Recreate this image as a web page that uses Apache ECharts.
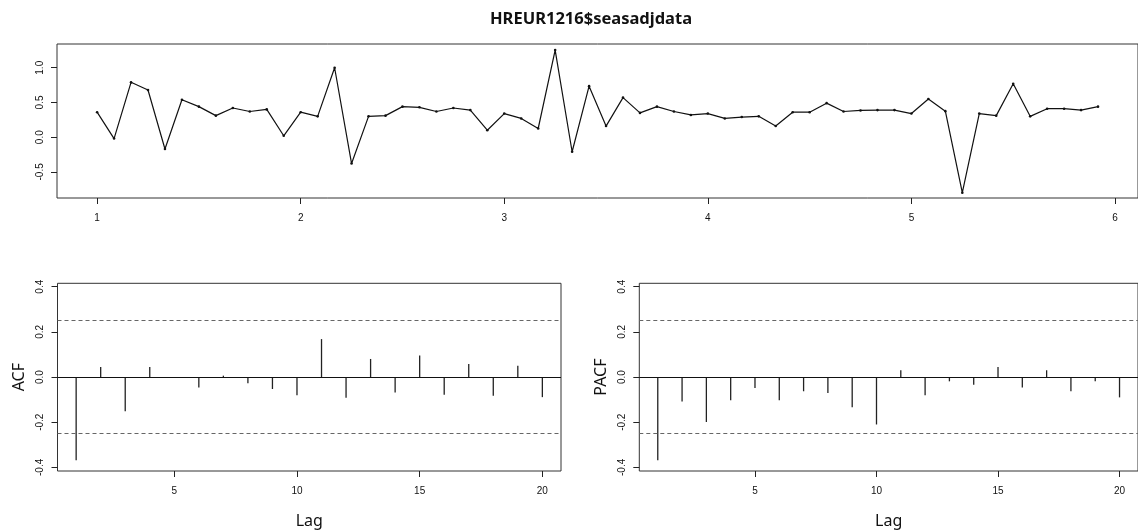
<!DOCTYPE html>
<html>
<head>
<meta charset="utf-8">
<script src="https://cdn.jsdelivr.net/npm/echarts@6/dist/echarts.min.js"></script>
<style>
html,body{margin:0;padding:0;background:#fff;}
#chart{width:1138px;height:532px;}
</style>
</head>
<body>
<div id="chart"></div>
<script>
// ---- data ----
const seriesStart = 1;          // time of first observation
const seriesFreq = 12;          // observations per unit
const seasadjValues = [
  0.36, -0.02, 0.79, 0.68, -0.17, 0.54, 0.44, 0.31, 0.42, 0.37, 0.40, 0.02,
  0.36, 0.30, 1.00, -0.38, 0.30, 0.31, 0.44, 0.43, 0.37, 0.42, 0.39, 0.10,
  0.34, 0.27, 0.125, 1.255, -0.21, 0.735, 0.16, 0.57, 0.35, 0.44, 0.37, 0.32,
  0.34, 0.27, 0.29, 0.30, 0.16, 0.36, 0.36, 0.49, 0.37, 0.385, 0.39, 0.39,
  0.34, 0.55, 0.375, -0.80, 0.34, 0.31, 0.77, 0.30, 0.41, 0.41, 0.39, 0.44
];
const lags = [1,2,3,4,5,6,7,8,9,10,11,12,13,14,15,16,17,18,19,20];
const acfValues = [-0.368, 0.044, -0.152, 0.044, -0.004, -0.046, 0.006, -0.028, -0.053, -0.081,
                   0.168, -0.092, 0.080, -0.068, 0.095, -0.078, 0.058, -0.083, 0.050, -0.089];
const pacfValues = [-0.368, -0.108, -0.199, -0.103, -0.049, -0.103, -0.063, -0.071, -0.134, -0.210,
                    0.030, -0.081, -0.019, -0.034, 0.044, -0.046, 0.030, -0.063, -0.019, -0.090];
const ciBound = 0.253;
const topXTicks = [1,2,3,4,5,6];
const topYTicks = [-0.5, 0, 0.5, 1.0];
const lagTicks = [5,10,15,20];
const corrTicks = [-0.4, -0.2, 0, 0.2, 0.4];
const titleText = 'HREUR1216$seasadjdata';

// ---- chart ----
const tsData = seasadjValues.map((v, i) => [seriesStart + i / seriesFreq, v]);
const acfData = lags.map((l, i) => [l, acfValues[i]]);
const pacfData = lags.map((l, i) => [l, pacfValues[i]]);

const tickFont = { fontFamily: 'Liberation Sans, Arial, sans-serif', fontSize: 10, color: '#111' };
const nameFont = { fontFamily: 'Noto Sans, sans-serif', fontSize: 16, color: '#111' };
const fmt1 = v => (Math.abs(v) < 1e-9 ? 0 : v).toFixed(1);

function xAxisDef(gridIndex, min, max, ticks, name) {
  return {
    type: 'value', gridIndex, min, max, position: 'bottom',
    axisLine: { show: false, onZero: false },
    axisTick: { show: true, customValues: ticks, length: 6, lineStyle: { color: '#222', width: 1 } },
    axisLabel: Object.assign({ customValues: ticks, margin: 15, formatter: v => String(v) }, tickFont),
    splitLine: { show: false },
    name: name || '', nameLocation: 'middle', nameGap: 42, nameTextStyle: nameFont
  };
}
function yAxisDef(gridIndex, min, max, ticks, name) {
  return {
    type: 'value', gridIndex, min, max, position: 'left',
    axisLine: { show: false, onZero: false },
    axisTick: { show: true, customValues: ticks, length: 6, lineStyle: { color: '#222', width: 1 } },
    axisLabel: Object.assign({ customValues: ticks, margin: 12, rotate: 90, formatter: fmt1 }, tickFont),
    splitLine: { show: false },
    name: name || '', nameLocation: 'middle', nameGap: 30, nameRotate: 90, nameTextStyle: nameFont
  };
}
function refLines() {
  return {
    silent: true, symbol: 'none', animation: false,
    label: { show: false },
    data: [
      { yAxis: ciBound, lineStyle: { type: [4, 3], color: '#666', width: 1.2 } },
      { yAxis: -ciBound, lineStyle: { type: [4, 3], color: '#666', width: 1.2 } },
      { yAxis: 0, lineStyle: { type: 'solid', color: '#111', width: 1 } }
    ]
  };
}

const gridStyle = { show: true, borderColor: '#333', borderWidth: 1, backgroundColor: 'transparent' };

const option = {
  animation: false,
  backgroundColor: '#fff',
  title: {
    text: titleText,
    left: 586, top: 6, textAlign: 'center',
    textStyle: { fontFamily: 'Noto Sans, sans-serif', fontWeight: 'bold', fontSize: 16.5, color: '#111' }
  },
  grid: [
    Object.assign({ left: 57, top: 44, width: 1083, height: 154 }, gridStyle),
    Object.assign({ left: 57.5, top: 283.3, width: 503.5, height: 187.7 }, gridStyle),
    Object.assign({ left: 639.3, top: 283.3, width: 503.5, height: 187.7 }, gridStyle)
  ],
  xAxis: [
    xAxisDef(0, 0.803, 6.113, topXTicks),
    xAxisDef(1, 0.24, 20.76, lagTicks, 'Lag'),
    xAxisDef(2, 0.24, 20.76, lagTicks, 'Lag')
  ],
  yAxis: [
    yAxisDef(0, -0.876, 1.342, topYTicks),
    yAxisDef(1, -0.416, 0.415, corrTicks, 'ACF'),
    yAxisDef(2, -0.416, 0.415, corrTicks, 'PACF')
  ],
  series: [
    {
      type: 'line', xAxisIndex: 0, yAxisIndex: 0, data: tsData,
      symbol: 'circle', symbolSize: 2.6, showSymbol: true,
      lineStyle: { color: '#111', width: 1.2 },
      itemStyle: { color: '#111' }
    },
    {
      type: 'bar', xAxisIndex: 1, yAxisIndex: 1, data: acfData,
      barWidth: 1.3, itemStyle: { color: '#222' },
      markLine: refLines()
    },
    {
      type: 'bar', xAxisIndex: 2, yAxisIndex: 2, data: pacfData,
      barWidth: 1.3, itemStyle: { color: '#222' },
      markLine: refLines()
    }
  ]
};

const chart = echarts.init(document.getElementById('chart'), null, { renderer: 'canvas' });
chart.setOption(option);
</script>
</body>
</html>
